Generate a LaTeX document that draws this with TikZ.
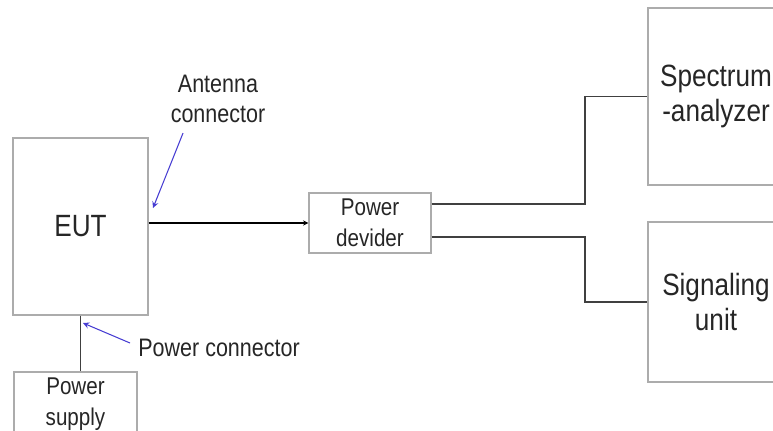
\documentclass[tikz,border=0pt]{standalone}
\usepackage{fontspec}
\setmainfont[FakeStretch=0.85]{Liberation Sans}
\usetikzlibrary{positioning,arrows.meta}
\definecolor{noteblue}{RGB}{70,60,210}

\begin{document}
\begin{tikzpicture}[
    x=0.02cm, y=-0.02cm, >=stealth,
    box/.style  ={draw=gray!65, line width=0.8pt, fill=white, align=center,
                  text=black!85, inner sep=0pt},
    big/.style  ={box, font=\fontsize{17.5}{20}\selectfont},
    small/.style={box, font=\fontsize{13.8}{17.5}\selectfont},
    lbl/.style  ={align=center, text=black!85, inner sep=0pt,
                  font=\fontsize{14.4}{17}\selectfont},
    wire/.style ={draw=gray!50!black, line width=1.1pt},
    note/.style ={->, draw=noteblue, line width=0.6pt},
  ]
  \useasboundingbox (0,0) rectangle (773,430);
  \clip (0,0) rectangle (773,430);

  % --- blocks ---
  \node[big, minimum width=2.7cm, minimum height=3.54cm] (eut) at (80.5,226.5) {EUT};
  \node[small, minimum width=2.46cm, minimum height=1.28cm] (ps) at (75.5,404) {Power\\supply};
  \node[small, minimum width=2.44cm, minimum height=1.2cm] (dev) at (370,223) {Power\\devider};
  \node[big, minimum width=2.72cm, minimum height=3.54cm] (sa) at (716,96.5) {Spectrum\\-analyzer};
  \node[big, minimum width=2.72cm, minimum height=3.2cm] (su) at (716,302) {Signaling\\unit};

  % --- wires ---
  \draw[wire] (eut.south) -- (eut.south |- ps.north);
  \draw[-{Stealth[length=3pt,width=3pt]}, black, line width=0.7pt] (eut.east |- dev.west) -- (dev.west);
  \draw[wire] ([yshift=0.38cm]dev.east) -- ++(153,0) |- (sa.west);
  \draw[wire] ([yshift=-0.28cm]dev.east) -- ++(153,0) |- (su.west);

  % --- notes ---
  \node[lbl] (antlbl) at (218,99) {Antenna\\connector};
  \node[lbl, anchor=west] (pclbl) at (138,348) {Power connector};
  \coordinate (antpt) at (153,208);
  \coordinate (pwrpt) at (83,323);
  \draw[note] ([xshift=-0.7cm,yshift=-0.2cm]antlbl.south) -- (antpt);
  \draw[note] ([xshift=-0.16cm,yshift=0.1cm]pclbl.west) -- (pwrpt);
\end{tikzpicture}
\end{document}
